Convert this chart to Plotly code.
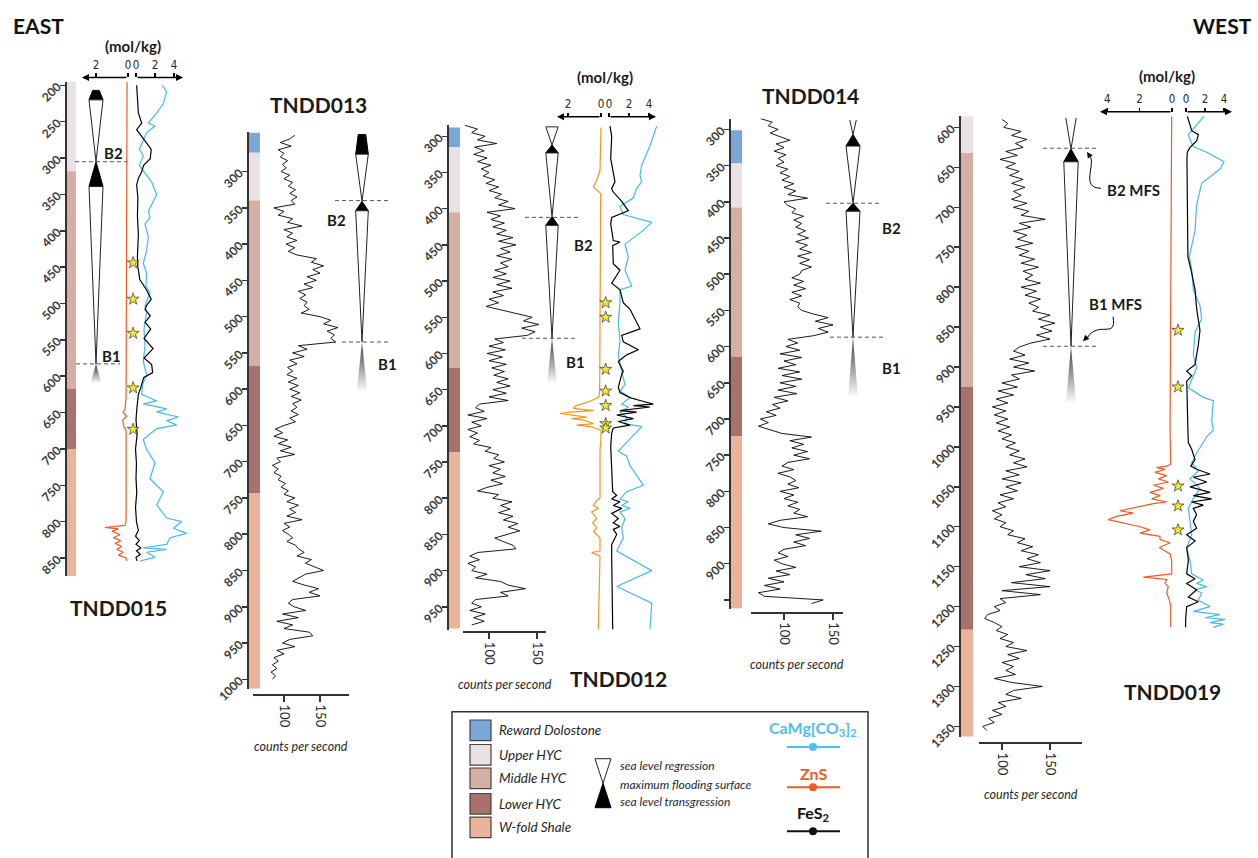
import numpy as np
import plotly.graph_objects as go

# ============================ DATA ============================
UNIT_NAMES = ["Reward Dolostone", "Upper HYC", "Middle HYC", "Lower HYC", "W-fold Shale"]
UNIT_COLORS = ["#7ba6d8", "#e9e1e3", "#d5afa4", "#a9716b", "#ebb399"]

# lithology intervals (unit list + boundaries in m)
lith_015_units = ["Upper HYC", "Middle HYC", "Lower HYC", "W-fold Shale"]
lith_015_bounds = [195, 318, 617, 700, 875]
lith_013_units = UNIT_NAMES
lith_013_bounds = [246, 274, 340, 568, 743, 1013]
lith_012_units = UNIT_NAMES
lith_012_bounds = [288, 315, 405, 620, 737, 980]
lith_014_units = UNIT_NAMES
lith_014_bounds = [301, 347, 408, 614, 724, 962]
lith_019_units = ["Upper HYC", "Middle HYC", "Lower HYC", "W-fold Shale"]
lith_019_bounds = [586, 632, 925, 1229, 1363]

# depth tick labels
ticks_015 = [200, 250, 300, 350, 400, 450, 500, 550, 600, 650, 700, 750, 800, 850]
ticks_013 = [300, 350, 400, 450, 500, 550, 600, 650, 700, 750, 800, 850, 900, 950, 1000]
ticks_012 = [300, 350, 400, 450, 500, 550, 600, 650, 700, 750, 800, 850, 900, 950]
ticks_014 = [300, 350, 400, 450, 500, 550, 600, 650, 700, 750, 800, 850, 900, 950]
ticktext_014 = ["300", "350", "400", "450", "500", "550", "600", "650", "700", "750", "800", "850", "900", ""]
ticks_019 = [600, 650, 700, 750, 800, 850, 900, 950, 1000, 1050, 1100, 1150, 1200, 1250, 1300, 1350]
gamma_ticks = [100, 150]

# gamma ray logs (counts per second), sampled every 5 m from the start depth
gr_step = 5
gr_013_start = 250
gr_013_cps = [115, 108, 95, 110, 92, 100, 95, 105, 98, 103,
              96, 108, 100, 112, 106, 116, 108, 118, 110, 115,
              86, 100, 92, 112, 105, 125, 100, 112, 104, 118,
              103, 115, 106, 118, 145, 138, 155, 140, 150, 132,
              145, 128, 140, 120, 130, 122, 132, 128, 135, 124,
              150, 165, 155, 175, 160, 170, 165, 172, 120, 132,
              112, 128, 108, 118, 105, 112, 104, 118, 106, 120,
              108, 122, 110, 124, 112, 118, 110, 120, 108, 116,
              100, 88, 98, 86, 105, 92, 110, 95, 115, 90,
              95, 84, 92, 86, 96, 92, 102, 96, 106, 100,
              115, 104, 120, 108, 116, 104, 125, 100, 108, 98,
              106, 112, 104, 116, 120, 128, 118, 138, 130, 142,
              155, 130, 120, 112, 128, 148, 135, 150, 112, 106,
              114, 130, 98, 120, 90, 112, 100, 135, 140, 108,
              98, 115, 90, 100, 86, 92, 84, 90, 82, 88,
              84]
gr_012_start = 285
gr_012_cps = [75, 88, 82, 96, 88, 108, 85, 95, 84, 98,
              88, 102, 92, 100, 94, 106, 97, 110, 100, 113,
              106, 120, 110, 127, 98, 112, 102, 116, 104, 118,
              108, 125, 110, 128, 112, 122, 108, 124, 112, 120,
              106, 118, 104, 122, 108, 124, 104, 115, 100, 110,
              97, 112, 130, 145, 136, 152, 134, 148, 140, 106,
              115, 100, 117, 98, 114, 100, 118, 103, 116, 105,
              120, 108, 122, 104, 118, 100, 120, 90, 86, 95,
              78, 98, 82, 92, 78, 88, 80, 90, 84, 102,
              96, 110, 105, 116, 100, 112, 104, 117, 102, 114,
              98, 88, 110, 104, 124, 112, 122, 110, 125, 115,
              130, 120, 132, 118, 106, 115, 125, 128, 88, 80,
              90, 78, 86, 82, 98, 86, 112, 120, 138, 112,
              120, 86, 82, 92, 80, 96, 84, 95, 82]
gr_014_start = 285
gr_014_cps = [76, 88, 84, 94, 86, 96, 106, 92, 100, 90,
              102, 94, 100, 92, 104, 96, 106, 98, 110, 100,
              112, 104, 124, 100, 104, 112, 108, 120, 110, 118,
              112, 122, 114, 125, 112, 124, 116, 128, 114, 126,
              116, 128, 118, 116, 108, 120, 110, 122, 108, 118,
              106, 116, 114, 118, 130, 145, 132, 150, 135, 145,
              130, 104, 114, 102, 116, 96, 118, 100, 112, 94,
              116, 98, 118, 96, 112, 94, 113, 90, 104, 88,
              96, 82, 92, 76, 84, 74, 86, 98, 128, 106,
              120, 108, 124, 110, 126, 104, 98, 110, 94, 106,
              112, 104, 115, 96, 110, 100, 114, 104, 116, 110,
              124, 96, 84, 100, 138, 112, 126, 110, 122, 100,
              94, 104, 90, 98, 112, 92, 106, 84, 100, 80,
              96, 74, 80, 140, 128]
gr_019_start = 590
gr_019_cps = [100, 106, 102, 120, 110, 126, 114, 122, 104, 116,
              98, 114, 104, 118, 108, 122, 110, 124, 112, 120,
              110, 126, 112, 128, 120, 145, 118, 130, 112, 126,
              116, 132, 114, 128, 118, 134, 120, 138, 122, 132,
              124, 140, 120, 136, 124, 140, 128, 138, 132, 150,
              138, 155, 140, 152, 136, 150, 130, 118, 112, 124,
              108, 128, 112, 134, 110, 118, 100, 116, 96, 112,
              94, 106, 90, 104, 92, 106, 94, 108, 96, 110,
              100, 114, 104, 118, 108, 124, 112, 126, 104, 118,
              100, 120, 104, 116, 98, 112, 96, 104, 90, 100,
              92, 104, 98, 112, 106, 124, 116, 132, 120, 138,
              126, 140, 118, 150, 125, 145, 110, 150, 100, 140,
              98, 104, 92, 98, 85, 82, 92, 100, 94, 106,
              98, 112, 104, 126, 106, 118, 100, 112, 104, 114,
              92, 110, 142, 112, 104, 120, 96, 104, 90, 100,
              86, 92, 80, 84]

# geochemistry (mol/kg) : depth lists and value lists
zns_015_d = [195, 300, 400, 500, 600, 630, 645, 650, 655, 660, 670, 675, 700, 750, 800, 805, 808, 810, 813, 818,
             822, 826, 830, 834, 838, 842, 846, 850, 854]
zns_015_v = [0.06, 0.07, 0.08, 0.1, 0.08, 0.12, 0.19, 0.3, 0.08, 0.33, 0.25, 0.12, 0.12, 0.12, 0.12, 0.19, 1.44,
             0.6, 1.0, 0.5, 0.92, 0.46, 0.8, 0.4, 0.7, 0.3, 0.6, 0.12, 0.08]
fes_015_d = [200, 238, 252, 261, 279, 288, 301, 310, 319, 328, 337, 355, 380, 405, 436, 450, 467, 481, 494, 503,
             508, 517, 526, 535, 548, 562, 575, 584, 595, 602, 616, 625, 643, 660, 680, 700, 720, 740, 760, 780,
             800, 812, 820, 826, 831, 836, 840, 845, 849, 854]
fes_015_v = [0.07, 0.25, 0.6, 0.07, 1.1, 1.6, 1.5, 0.8, 0.6, 0.25, 0.07, 0.2, 0.15, 0.25, 0.15, 0.2, 0.4, 1.1, 1.6, 1.1,
             0.95, 1.5, 0.95, 1.55, 0.85, 1.8, 0.85, 1.65, 1.75, 0.8, 0.5, 0.25, 0.1, 0.0, 0.12, -0.05, 0.05, 0.0, 0.08, -0.05,
             0.05, 0.25, -0.05, 0.35, 0.0, 0.5, 0.05, 0.45, 0.0, 0.1]
dol_015_d = [200, 209, 225, 238, 252, 256, 265, 279, 288, 297, 310, 333, 350, 373, 382, 391, 409, 427, 445, 458,
             476, 485, 503, 512, 535, 557, 580, 598, 611, 625, 634, 638, 645, 649, 656, 661, 667, 672, 678, 687,
             701, 719, 741, 759, 777, 795, 800, 809, 816, 822, 831, 836, 838, 842, 849, 854]
dol_015_v = [2.77, 3.23, 2.88, 2.18, 1.3, 2.0, 1.12, 0.6, 0.35, 0.77, 0.35, 1.65, 2.18, 1.3, 1.47, 0.95, 1.3, 1.12, 0.77, 1.12,
             1.05, 1.47, 0.95, 1.12, 0.84, 0.95, 0.77, 1.12, 0.7, 0.6, 2.18, 0.77, 3.23, 2.18, 4.46, 3.23, 4.28, 2.18, 1.65, 0.77,
             1.12, 2.0, 1.47, 2.88, 2.18, 3.23, 4.8, 3.93, 5.33, 3.58, 3.23, 0.77, 3.23, 1.12, 2.0, 0.42]
stars_015 = [444, 494, 541, 616, 673]

zns_012_d = [288, 347, 360, 370, 379, 450, 512, 600, 656, 661, 667, 672, 676, 679, 681, 683, 688, 690, 692, 697,
             699, 701, 706, 719, 733, 800, 803, 810, 814, 819, 828, 834, 841, 846, 855, 873, 875, 880, 930, 981]
zns_012_v = [0.0, 0.06, 0.25, 0.46, 0.02, 0.03, 0.05, 0.08, 0.08, 0.16, 0.77, 1.5, 1.7, 0.46, 1.9, 2.5, 0.87, 1.78, 1.07, 0.46,
             1.48, 0.67, 0.0, 0.0, 0.06, 0.06, 0.26, 0.46, 0.16, 0.57, 0.26, 0.5, 0.26, 0.46, 0.06, 0.06, 0.57, 0.06, 0.1, 0.16]
fes_012_d = [286, 300, 331, 363, 372, 376, 390, 403, 412, 421, 444, 446, 451, 476, 485, 503, 512, 530, 539, 566,
             575, 584, 595, 602, 611, 625, 629, 647, 654, 661, 665, 670, 672, 674, 679, 681, 685, 690, 694, 699,
             703, 710, 728, 760, 791, 796, 801, 805, 810, 814, 821, 828, 834, 839, 843, 850, 864, 882, 930, 981]
fes_012_v = [0.1, 0.27, 0.17, 0.6, 0.27, 0.37, 1.27, 1.93, 0.27, 0.17, 0.43, 1.1, 0.37, 0.43, 1.1, 0.27, 1.1, 1.43, 2.1, 3.1,
             1.27, 1.43, 2.93, 1.77, 0.93, 1.43, 1.27, 0.93, 1.1, 2.1, 3.1, 4.43, 2.43, 4.1, 1.1, 2.77, 0.77, 2.43, 0.93, 2.1,
             0.43, 0.27, 0.17, 0.27, 0.37, 0.77, 0.27, 1.1, 0.43, 1.27, 0.27, 0.93, 0.43, 1.1, 0.43, 0.77, 0.27, 0.27, 0.33, 0.37]
dol_012_d = [286, 313, 340, 354, 363, 372, 385, 397, 408, 412, 419, 430, 449, 467, 485, 507, 512, 530, 557, 584,
             602, 625, 643, 652, 661, 670, 674, 681, 688, 697, 701, 735, 742, 755, 782, 791, 801, 805, 810, 814,
             819, 828, 841, 855, 873, 900, 922, 945, 981]
dol_012_v = [4.77, 4.1, 3.27, 3.1, 3.27, 2.77, 2.43, 1.1, 1.43, 2.43, 4.27, 3.43, 1.6, 1.93, 1.6, 2.27, 1.1, 1.1, 0.93, 1.1,
             0.93, 1.27, 1.6, 1.1, 2.1, 1.27, 1.93, 1.1, 1.77, 1.6, 3.27, 0.93, 1.77, 2.1, 3.43, 1.77, 1.1, 1.93, 1.27, 2.1,
             1.1, 1.6, 1.27, 1.43, 0.77, 4.27, 0.77, 4.27, 4.1]
stars_012 = [530, 550, 622, 652, 672, 697, 703]

zns_019_d = [586, 700, 800, 900, 979, 1022, 1024, 1026, 1028, 1032, 1036, 1040, 1044, 1048, 1052, 1057, 1061, 1065, 1069, 1071,
             1075, 1077, 1080, 1083, 1087, 1091, 1096, 1100, 1104, 1108, 1112, 1116, 1120, 1126, 1134, 1142, 1159, 1163, 1166, 1171,
             1175, 1183, 1192, 1200, 1226]
zns_019_v = [0.02, 0.04, 0.07, 0.1, 0.12, 0.08, 0.33, 0.95, 0.43, 1.05, 0.33, 0.84, 0.23, 1.15, 0.53, 1.36, 0.74, 1.25, 0.33, 1.15,
             2.08, 2.7, 3.21, 2.39, 3.42, 3.93, 2.8, 1.98, 1.36, 1.98, 0.74, 0.74, 0.12, 0.78, 0.12, 0.02, 0.02, 1.77, 0.33, 0.43,
             0.23, 0.33, 0.16, 0.08, 0.08]
fes_019_d = [586, 604, 609, 617, 625, 631, 639, 700, 762, 782, 803, 827, 854, 872, 897, 905, 911, 918, 926, 979,
             995, 1003, 1016, 1024, 1028, 1034, 1038, 1044, 1050, 1057, 1061, 1065, 1069, 1073, 1077, 1085, 1093, 1102, 1110, 1118,
             1126, 1142, 1159, 1165, 1171, 1179, 1188, 1194, 1200, 1216, 1226]
fes_019_v = [0.14, 0.6, 1.3, 1.12, 0.42, 0.14, 0.1, 0.15, 0.2, 0.6, 0.95, 1.12, 1.47, 1.3, 0.95, 0.07, 0.6, 0.07, 0.1, 0.2,
             0.25, 0.6, 0.95, 0.5, 1.12, 2.53, 0.77, 2.18, 0.42, 2.53, 0.77, 2.7, 0.6, 1.82, 0.77, 1.12, 0.77, 1.12, 0.07, 0.95,
             0.07, 0.25, 0.07, 0.95, 0.07, 1.12, 0.25, 1.3, 0.07, -0.04, -0.04]
dol_019_d = [586, 609, 615, 624, 631, 643, 652, 670, 697, 729, 762, 778, 803, 823, 840, 856, 885, 901, 926, 938,
             942, 967, 979, 987, 1008, 1020, 1030, 1040, 1052, 1065, 1077, 1093, 1110, 1126, 1142, 1159, 1167, 1171, 1175, 1179,
             1183, 1192, 1200, 1206, 1210, 1214, 1216, 1220, 1222, 1226]
dol_019_v = [1.89, 0.25, 0.42, 0.77, 2.18, 4.0, 3.58, 1.65, 1.12, 0.95, 0.35, 0.6, 0.77, 1.47, 1.65, 0.95, 0.77, 1.12, 0.25, 1.82,
             2.88, 2.7, 2.88, 2.18, 1.12, 0.6, 1.3, 0.42, 1.47, 0.77, 0.25, 0.42, 0.6, 0.07, 0.42, 0.6, 1.82, 1.12, 2.18, 0.95,
             1.65, 1.3, 2.53, 0.77, 3.58, 2.0, 4.1, 2.53, 3.93, 2.88]
stars_019 = [854, 925, 1049, 1074, 1104]

# sequence stratigraphy (kind, top depth, bottom depth) and MFS depths
seq_015 = [("cap", 207, 220), ("white", 220, 305), ("black", 305, 339), ("white", 339, 583), ("grey", 583, 610)]
mfs_015 = {"B2": 305, "B1": 583}
seq_013 = [("cap", 249, 276), ("white", 276, 341), ("black", 341, 354), ("white", 354, 535), ("grey", 535, 604)]
mfs_013 = {"B2": 340, "B1": 535}
seq_012 = [("white", 287, 312), ("black", 312, 323), ("white", 323, 411), ("black", 411, 423), ("white", 423, 579), ("grey", 579, 642)]
mfs_012 = {"B2": 412, "B1": 579}
seq_014 = [("open", 287, 307), ("black", 307, 323), ("white", 323, 402), ("black", 402, 413), ("white", 413, 587), ("grey", 587, 670)]
mfs_014 = {"B2": 402, "B1": 587}
seq_019 = [("open", 588, 627), ("black", 627, 643), ("white", 643, 874), ("grey", 874, 946)]
mfs_019 = {"B2": 626, "B1": 874}

# ============================ LAYOUT HELPERS ============================
W, H = 1258, 858
FONT = "Lato"
INK = "#262626"
ZNS_RED = "#f15a24"
ZNS_ORANGE = "#f7941d"
DOL_BLUE = "#45b9e8"


def fx(p):
    return p / W


def fy(p):
    return 1 - p / H


axes = {}
cnt = {"x": 0, "y": 0}


def axis(kind, **kw):
    cnt[kind] += 1
    n = cnt[kind]
    suf = "" if n == 1 else str(n)
    axes[f"{kind}axis{suf}"] = kw
    return f"{kind}{suf}"


fig = go.Figure()
ann = []
shapes = []


def label(px, py, text, size=13, color=INK, xanchor="center", yanchor="middle"):
    ann.append(dict(x=fx(px), y=fy(py), xref="paper", yref="paper", text=text, showarrow=False,
                    font=dict(family=FONT, size=size, color=color), xanchor=xanchor, yanchor=yanchor))


def arrow(hx, hy, tx, ty, width=1.4, head=2, size=1.0):
    ann.append(dict(x=fx(hx), y=fy(hy), xref="paper", yref="paper", ax=tx - hx, ay=ty - hy,
                    axref="pixel", ayref="pixel", text="", showarrow=True, arrowhead=head,
                    arrowsize=size, arrowwidth=width, arrowcolor="black", standoff=0, startstandoff=0))


GEO = {
    "015": dict(d0=200, y0=85, k=0.742, dtop=195, dbot=875, axx=66, bar=(66, 76), hgc=96, hw=7.0, ghw=5.5, cap=3.3,
                chem=dict(line=77, z0=128, kz=16.0, zhead=82, ztick=[2, 0], r0=136, kr=9.5, rhead=183, zcol=ZNS_RED, star=-0.3)),
    "013": dict(d0=300, y0=173, k=0.74, dtop=246, dbot=1013, axx=248, bar=(248, 260), hgc=362, hw=6.3, ghw=5.3, cap=3.8,
                gam=dict(line=707, xa=253, xb=349, x100=284, x150=320)),
    "012": dict(d0=300, y0=137, k=0.7385, dtop=284, dbot=982, axx=448, bar=(448, 460), hgc=552, hw=6.2, ghw=5.0,
                gam=dict(line=643, xa=463, xb=546, x100=489, x150=537),
                chem=dict(line=117, z0=601, kz=16.5, zhead=557, ztick=[2, 0], r0=609, kr=10.0, rhead=656, zcol=ZNS_ORANGE, star=-0.33)),
    "014": dict(d0=300, y0=130, k=0.7385, dtop=285, dbot=962, axx=730, bar=(730, 742), hgc=853, hw=7.0, ghw=5.0, opn=3.3,
                gam=dict(line=623, xa=751, xb=843, x100=784, x150=833)),
    "019": dict(d0=600, y0=128, k=0.8147, dtop=586, dbot=1363, axx=960, bar=(961, 973), hgc=1071, hw=7.2, ghw=5.2, opn=5.2,
                gam=dict(line=756, xa=979, xb=1082, x100=1002, x150=1050),
                chem=dict(line=112, z0=1172, kz=16.2, zhead=1100, ztick=[4, 2, 0], r0=1186, kr=9.5, rhead=1232, zcol=ZNS_RED, star=-0.84)),
}


def dpx(g, d):
    return g["y0"] + (d - g["d0"]) * g["k"]


def build_well(key, lith_units, lith_bounds, ticks, ticktext, seq, mfs, mfs_dash, gamma=None, chem=None):
    g = GEO[key]
    ptop, pbot = dpx(g, g["dtop"]), dpx(g, g["dbot"])
    yref = axis("y", domain=[fy(pbot), fy(ptop)], range=[g["dbot"], g["dtop"]], anchor="free",
                position=fx(g["axx"]), side="left", showline=True, linewidth=2, linecolor="#333",
                ticks="outside", ticklen=5, tickwidth=1.5, tickcolor="#333", tickvals=ticks,
                ticktext=ticktext if ticktext else [str(t) for t in ticks], tickangle=-45,
                tickfont=dict(family=FONT, size=12, color="#3a3a3a", weight=700),
                showgrid=False, zeroline=False, fixedrange=True)
    # lithology column
    bref = axis("x", domain=[fx(g["bar"][0]), fx(g["bar"][1])], range=[-0.5, 0.5], visible=False,
                anchor=yref, fixedrange=True)
    tops = lith_bounds[:-1]
    thick = [b - t for t, b in zip(lith_bounds[:-1], lith_bounds[1:])]
    cols = [UNIT_COLORS[UNIT_NAMES.index(u)] for u in lith_units]
    fig.add_trace(go.Bar(x=[0] * len(tops), y=thick, base=tops, width=1, marker=dict(color=cols, line=dict(width=0)),
                         xaxis=bref, yaxis=yref, hoverinfo="skip"))
    # gamma ray
    if gamma is not None:
        ga = g["gam"]
        kx = (ga["x150"] - ga["x100"]) / 50.0
        gref = axis("x", domain=[fx(ga["xa"]), fx(ga["xb"])],
                    range=[100 + (ga["xa"] - ga["x100"]) / kx, 100 + (ga["xb"] - ga["x100"]) / kx],
                    anchor="free", position=fy(ga["line"]), side="bottom", showline=True, linewidth=2,
                    linecolor="#333", ticks="outside", ticklen=6, tickwidth=1.5, tickcolor="#333",
                    tickvals=gamma_ticks, tickangle=90, tickfont=dict(family=FONT, size=13, color=INK),
                    showgrid=False, zeroline=False, fixedrange=True)
        start, cps = gamma
        depth = [start + gr_step * i for i in range(len(cps))]
        fig.add_trace(go.Scatter(x=cps, y=depth, mode="lines", line=dict(color="black", width=0.9),
                                 xaxis=gref, yaxis=yref, hoverinfo="skip"))
        label((ga["xa"] + ga["xb"]) / 2, ga["line"] + 53, "<i>counts per second</i>", size=12.5)
    # sequence stratigraphy
    c = g["hgc"]
    href = axis("x", domain=[fx(c - 55), fx(c + 55)], range=[-55, 55], visible=False, anchor=yref, fixedrange=True)
    hw, ghw = g["hw"], g["ghw"]
    for kind, top, bot in seq:
        if kind == "cap":
            cp = g["cap"]
            fig.add_trace(go.Scatter(x=[-cp, cp, hw, -hw, -cp], y=[top, top, bot, bot, top], fill="toself",
                                     fillcolor="black", mode="lines", line=dict(color="black", width=1),
                                     xaxis=href, yaxis=yref, hoverinfo="skip"))
        elif kind == "black":
            fig.add_trace(go.Scatter(x=[0, hw, -hw, 0], y=[top, bot, bot, top], fill="toself",
                                     fillcolor="black", mode="lines", line=dict(color="black", width=1),
                                     xaxis=href, yaxis=yref, hoverinfo="skip"))
        elif kind == "white":
            fig.add_trace(go.Scatter(x=[-hw, hw, 0, -hw], y=[top, top, bot, top], fill="toself",
                                     fillcolor="white", mode="lines", line=dict(color="#222", width=1),
                                     xaxis=href, yaxis=yref, hoverinfo="skip"))
        elif kind == "open":
            o = g["opn"]
            fig.add_trace(go.Scatter(x=[-o, 0, o], y=[top, bot, top], mode="lines",
                                     line=dict(color="#222", width=1), xaxis=href, yaxis=yref, hoverinfo="skip"))
        elif kind == "grey":
            fig.add_trace(go.Scatter(x=[0, ghw, -ghw, 0], y=[top, bot, bot, top], fill="toself",
                                     fillgradient=dict(type="vertical", colorscale=[[0, "#ffffff"], [1, "#3a3a3a"]]),
                                     mode="lines", line=dict(width=0, color="rgba(0,0,0,0)"),
                                     xaxis=href, yaxis=yref, hoverinfo="skip"))
    for name, d in mfs.items():
        x1, x2 = mfs_dash[name]
        fig.add_trace(go.Scatter(x=[x1 - c, x2 - c], y=[d, d], mode="lines",
                                 line=dict(color="#555", width=1, dash="4px,3px"),
                                 xaxis=href, yaxis=yref, hoverinfo="skip"))
    # geochemistry
    if chem is not None:
        ch = g["chem"]
        zd, zv, fd, fv, dd, dv, st = chem
        xa, xb = ch["zhead"] - 8, ch["z0"] + 10
        zref = axis("x", domain=[fx(xa), fx(xb)], range=[(ch["z0"] - xa) / ch["kz"], (ch["z0"] - xb) / ch["kz"]],
                    anchor="free", position=fy(ch["line"]), side="top", showline=False, ticks="outside",
                    ticklen=4, tickwidth=1.2, tickcolor="black", tickvals=ch["ztick"],
                    tickfont=dict(family="DejaVu Sans Condensed", size=11.5, color=INK),
                    showgrid=False, zeroline=False, fixedrange=True)
        xa, xb = ch["r0"] - 10, ch["rhead"] + 8
        rref = axis("x", domain=[fx(xa), fx(xb)], range=[(xa - ch["r0"]) / ch["kr"], (xb - ch["r0"]) / ch["kr"]],
                    anchor="free", position=fy(ch["line"]), side="top", showline=False, ticks="outside",
                    ticklen=4, tickwidth=1.2, tickcolor="black", tickvals=[0, 2, 4],
                    tickfont=dict(family="DejaVu Sans Condensed", size=11.5, color=INK),
                    showgrid=False, zeroline=False, fixedrange=True)
        arrow(ch["zhead"], ch["line"], ch["z0"], ch["line"])
        arrow(ch["rhead"], ch["line"], ch["r0"], ch["line"])
        fig.add_trace(go.Scatter(x=zv, y=zd, mode="lines", line=dict(color=ch["zcol"], width=1.2),
                                 xaxis=zref, yaxis=yref, hoverinfo="skip"))
        fig.add_trace(go.Scatter(x=dv, y=dd, mode="lines", line=dict(color=DOL_BLUE, width=1.2),
                                 xaxis=rref, yaxis=yref, hoverinfo="skip"))
        fig.add_trace(go.Scatter(x=fv, y=fd, mode="lines", line=dict(color="black", width=1.2),
                                 xaxis=rref, yaxis=yref, hoverinfo="skip"))
        fig.add_trace(go.Scatter(x=[ch["star"]] * len(st), y=st, mode="markers", cliponaxis=False,
                                 marker=dict(symbol="star", size=9, color="#f5ea2a", line=dict(color="#333", width=0.7)),
                                 xaxis=rref, yaxis=yref, hoverinfo="skip"))


build_well("015", lith_015_units, lith_015_bounds, ticks_015, None, seq_015, mfs_015,
           {"B2": (75, 128), "B1": (76, 120)},
           chem=(zns_015_d, zns_015_v, fes_015_d, fes_015_v, dol_015_d, dol_015_v, stars_015))
build_well("013", lith_013_units, lith_013_bounds, ticks_013, None, seq_013, mfs_013,
           {"B2": (335, 388), "B1": (342, 388)}, gamma=(gr_013_start, gr_013_cps))
build_well("012", lith_012_units, lith_012_bounds, ticks_012, None, seq_012, mfs_012,
           {"B2": (525, 578), "B1": (522, 577)}, gamma=(gr_012_start, gr_012_cps),
           chem=(zns_012_d, zns_012_v, fes_012_d, fes_012_v, dol_012_d, dol_012_v, stars_012))
build_well("014", lith_014_units, lith_014_bounds, ticks_014, ticktext_014, seq_014, mfs_014,
           {"B2": (826, 880), "B1": (830, 883)}, gamma=(gr_014_start, gr_014_cps))
build_well("019", lith_019_units, lith_019_bounds, ticks_019, None, seq_019, mfs_019,
           {"B2": (1043, 1098), "B1": (1043, 1098)}, gamma=(gr_019_start, gr_019_cps),
           chem=(zns_019_d, zns_019_v, fes_019_d, fes_019_v, dol_019_d, dol_019_v, stars_019))

# ============================ TEXT ============================
label(11, 24, "<b>EAST</b>", size=21, color="#111", xanchor="left")
label(1254, 24, "<b>WEST</b>", size=21, color="#111", xanchor="right")
for txt, px, py in [("TNDD015", 118, 618), ("TNDD013", 318, 105), ("TNDD012", 618, 690),
                    ("TNDD014", 810, 95), ("TNDD019", 1172, 703)]:
    label(px, py, f"<b>{txt}</b>", size=21, color="#1a1a1a")
for px, py in [(133, 45), (605, 77), (1167, 75)]:
    label(px, py, "<b>(mol/kg)</b>", size=15, color="#1a1a1a")
for txt, px, py in [("B2", 113, 154), ("B1", 111, 361), ("B2", 336, 222), ("B1", 387, 369),
                    ("B2", 583, 248), ("B1", 575, 367), ("B2", 891, 231), ("B1", 891, 373),
                    ("B2 MFS", 1133, 192), ("B1 MFS", 1115, 308)]:
    label(px, py, f"<b>{txt}</b>", size=15, color="#1a1a1a")


def ppath(pts):
    s = "M " + " ".join(f"{fx(x):.5f},{fy(y):.5f}" for x, y in pts[:1])
    s += " C " + " ".join(f"{fx(x):.5f},{fy(y):.5f}" for x, y in pts[1:])
    return s


shapes.append(dict(type="path", xref="paper", yref="paper",
                   path=ppath([(1101, 190), (1080, 190), (1096, 166), (1090, 157)]), line=dict(color="black", width=1)))
arrow(1087, 153, 1091, 159, width=1, head=2, size=1.2)
shapes.append(dict(type="path", xref="paper", yref="paper",
                   path=ppath([(1113, 321), (1117, 345), (1098, 324), (1087, 343)]), line=dict(color="black", width=1)))
arrow(1083, 346, 1088, 341, width=1, head=2, size=1.2)

# ============================ LEGEND ============================
shapes.append(dict(type="rect", xref="paper", yref="paper", x0=fx(452), x1=fx(868), y0=fy(875), y1=fy(724),
                   line=dict(color="#333", width=1.5), fillcolor="white", layer="below"))
for name, col, yc in zip(UNIT_NAMES, UNIT_COLORS, [743, 768, 792, 818, 842]):
    shapes.append(dict(type="rect", xref="paper", yref="paper", x0=fx(470), x1=fx(491), y0=fy(yc + 10.5),
                       y1=fy(yc - 10.5), fillcolor=col, line=dict(color="#444", width=1.2)))
    label(497, yc, f"<i>{name}</i>", size=13.5, xanchor="left")
shapes.append(dict(type="path", xref="paper", yref="paper",
                   path=f"M {fx(595)},{fy(772)} L {fx(611)},{fy(772)} L {fx(603)},{fy(797)} Z",
                   fillcolor="white", line=dict(color="#222", width=1)))
shapes.append(dict(type="path", xref="paper", yref="paper",
                   path=f"M {fx(603)},{fy(797)} L {fx(611)},{fy(822)} L {fx(595)},{fy(822)} Z",
                   fillcolor="black", line=dict(color="black", width=1)))
label(618, 779, "<i>sea level regression</i>", size=12, xanchor="left")
label(618, 798, "<i>maximum flooding surface</i>", size=12, xanchor="left")
label(618, 816, "<i>sea level transgression</i>", size=12, xanchor="left")
for txt, col, ty, ly in [("<b>CaMg[CO<sub>3</sub>]<sub>2</sub></b>", "#4dc0ee", 741, 760),
                         ("<b>ZnS</b>", ZNS_RED, 787, 801),
                         ("<b>FeS<sub>2</sub></b>", "#111", 828, 846)]:
    label(813, ty, txt, size=16, color=col)
    shapes.append(dict(type="line", xref="paper", yref="paper", x0=fx(787), x1=fx(840), y0=fy(ly), y1=fy(ly),
                       line=dict(color=col, width=2)))
    shapes.append(dict(type="circle", xref="paper", yref="paper", x0=fx(809), x1=fx(817), y0=fy(ly + 4),
                       y1=fy(ly - 4), fillcolor=col, line=dict(color=col, width=0)))

fig.update_layout(**axes)
fig.update_layout(width=W, height=H, autosize=False, margin=dict(l=0, r=0, t=0, b=0),
                  paper_bgcolor="white", plot_bgcolor="rgba(0,0,0,0)", showlegend=False,
                  barmode="overlay", hovermode=False, annotations=ann, shapes=shapes,
                  font=dict(family=FONT, color=INK))
fig.write_html("out.html", config={"displayModeBar": False, "staticPlot": True},
               post_script="document.body.style.margin='0';document.body.style.overflow='hidden';")
